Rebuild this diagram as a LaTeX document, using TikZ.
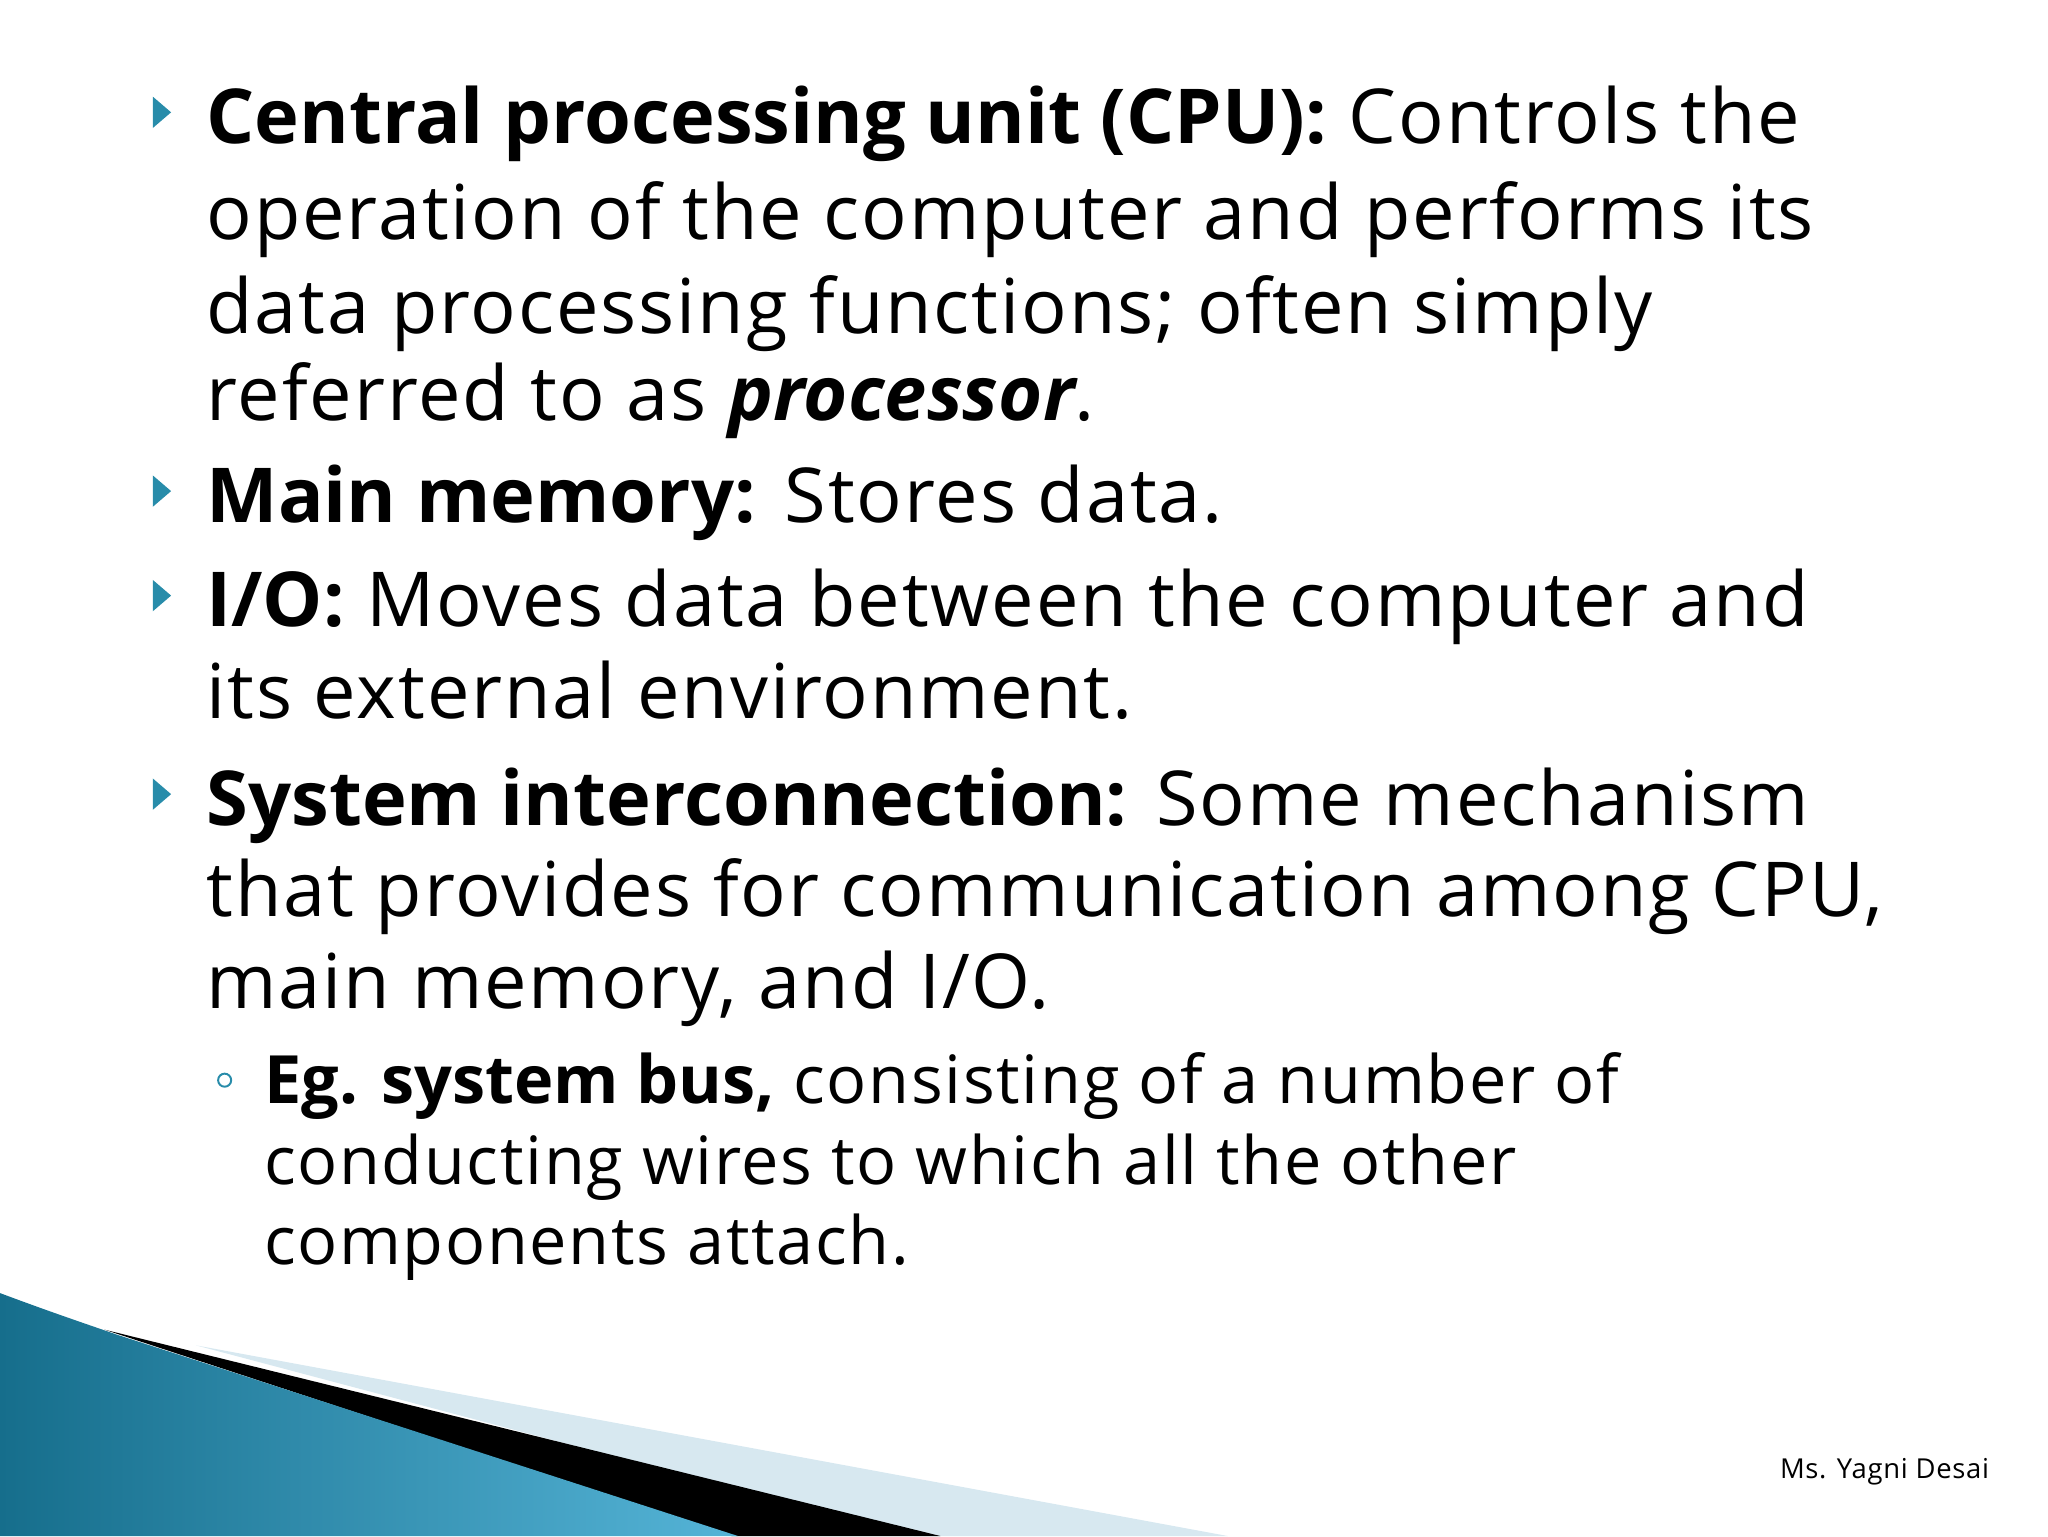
\documentclass[tikz,border=0pt]{standalone}
\usepackage{fontspec}
\setmainfont{Open Sans}[LetterSpace=2.5,BoldFeatures={LetterSpace=0},BoldItalicFeatures={LetterSpace=0}]
\definecolor{tealD}{RGB}{22,110,140}
\definecolor{tealL}{RGB}{85,180,215}
\definecolor{pale}{RGB}{215,232,240}
\definecolor{bul}{RGB}{40,140,170}
\begin{document}
\begin{tikzpicture}[x=1pt,y=-1pt,
  ln/.style={anchor=base west,inner sep=0pt,font=\fontsize{58}{60}\selectfont},
  sl/.style={anchor=base west,inner sep=0pt,font=\fontsize{51}{52}\selectfont},
  tri/.style={fill=bul}]
\useasboundingbox (0,0) rectangle (1568,1176);
% decoration
\fill[pale] (150,1030) -- (940,1176) -- (700,1176) -- cycle;
\fill[black] (80,1018) -- (720,1176) -- (560,1176) -- cycle;
\shade[left color=tealD, right color=tealL] (0,990) .. controls (40,1005) and (70,1015) .. (90,1022) -- (565,1176) -- (0,1176) -- cycle;
% bullets
\foreach \y in {110,400,480,632}{
  \fill[tri] (117,\y-36) -- (131,\y-24) -- (117,\y-12) -- cycle;}
\node[ln] (l1) at (158,110) {\textbf{Central processing unit (CPU):} Controls the};
\node[ln] (l2) at (158,183) {operation of the computer and performs its};
\node[ln] (l3) at (158,255) {data processing functions; often simply};
\node[ln] (l4) at (158,322) {referred to as \textit{\textbf{processor}}.};
\node[ln] (l5) at (158,400) {\textbf{Main memory:} Stores data.};
\node[ln] (l6) at (158,480) {\textbf{I/O:} Moves data between the computer and};
\node[ln] (l7) at (158,550) {its external environment.};
\node[ln] (l8) at (158,632) {\textbf{System interconnection:} Some mechanism};
\node[ln] (l9) at (158,702) {that provides for communication among CPU,};
\node[ln] (l10) at (158,772) {main memory, and I/O.};
\node[draw=bul,circle,line width=1.5pt,minimum size=10pt,inner sep=0pt] (s0) at (172,827) {};
\node[sl] (s1) at (202,845) {\textbf{Eg. system bus,} consisting of a number of};
\node[sl] (s2) at (202,907) {conducting wires to which all the other};
\node[sl] (s3) at (202,968) {components attach.};
\node[anchor=base east,inner sep=0pt,font=\fontsize{21}{22}\selectfont] (au) at (1523,1132) {Ms. Yagni Desai};
\end{tikzpicture}
\end{document}
